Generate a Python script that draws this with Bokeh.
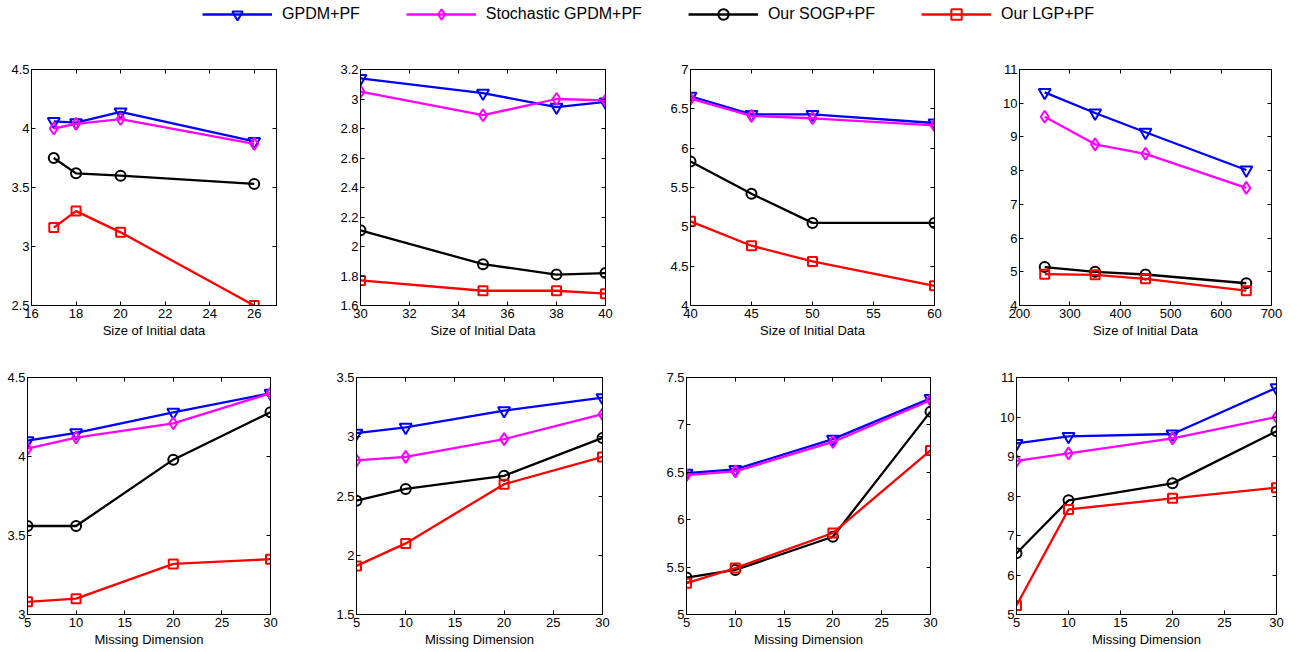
from bokeh.plotting import figure
from bokeh.layouts import column, row
from bokeh.models import (Range1d, FixedTicker, LinearAxis, CustomJSTickFormatter,
                          Legend, LegendItem)
from bokeh.embed import file_html
from bokeh.resources import INLINE

# ---------------- data ----------------
series_names = ["GPDM+PF", "Stochastic GPDM+PF", "Our SOGP+PF", "Our LGP+PF"]

# top row: size of initial data
p1_x = [17, 18, 20, 26]
p1_gpdm = [4.06, 4.05, 4.14, 3.89]
p1_sgpdm = [4.00, 4.04, 4.08, 3.87]
p1_sogp = [3.75, 3.62, 3.60, 3.53]
p1_lgp = [3.16, 3.30, 3.12, 2.50]

p2_x = [30, 35, 38, 40]
p2_gpdm = [3.14, 3.04, 2.945, 2.98]
p2_sgpdm = [3.05, 2.89, 3.00, 2.99]
p2_sogp = [2.11, 1.88, 1.81, 1.82]
p2_lgp = [1.77, 1.70, 1.70, 1.68]

p3_x = [40, 45, 50, 60]
p3_gpdm = [6.66, 6.43, 6.43, 6.32]
p3_sgpdm = [6.63, 6.41, 6.38, 6.29]
p3_sogp = [5.83, 5.42, 5.05, 5.05]
p3_lgp = [5.07, 4.76, 4.56, 4.25]

p4_x = [250, 350, 450, 650]
p4_gpdm = [10.32, 9.71, 9.14, 8.02]
p4_sgpdm = [9.60, 8.78, 8.50, 7.49]
p4_sogp = [5.14, 5.00, 4.92, 4.66]
p4_lgp = [4.93, 4.91, 4.79, 4.44]

# bottom row: missing dimension
md_x = [5, 10, 20, 30]
p5_gpdm = [4.10, 4.15, 4.28, 4.40]
p5_sgpdm = [4.05, 4.12, 4.21, 4.40]
p5_sogp = [3.56, 3.56, 3.98, 4.28]
p5_lgp = [3.08, 3.10, 3.32, 3.35]

p6_gpdm = [3.03, 3.08, 3.22, 3.33]
p6_sgpdm = [2.80, 2.83, 2.98, 3.19]
p6_sogp = [2.46, 2.56, 2.67, 2.99]
p6_lgp = [1.91, 2.10, 2.60, 2.83]

p7_gpdm = [6.49, 6.53, 6.85, 7.28]
p7_sgpdm = [6.47, 6.51, 6.82, 7.26]
p7_sogp = [5.39, 5.47, 5.82, 7.14]
p7_lgp = [5.33, 5.49, 5.86, 6.73]

p8_gpdm = [9.33, 9.51, 9.57, 10.74]
p8_sgpdm = [8.89, 9.08, 9.46, 10.00]
p8_sogp = [6.55, 7.89, 8.32, 9.64]
p8_lgp = [5.23, 7.66, 7.94, 8.21]

# axis ticks / labels
p1_xticks = [16, 18, 20, 22, 24, 26]
p1_yticks = [2.5, 3, 3.5, 4, 4.5]
p2_xticks = [30, 32, 34, 36, 38, 40]
p2_yticks = [1.6, 1.8, 2, 2.2, 2.4, 2.6, 2.8, 3, 3.2]
p3_xticks = [40, 45, 50, 55, 60]
p3_yticks = [4, 4.5, 5, 5.5, 6, 6.5, 7]
p4_xticks = [200, 300, 400, 500, 600, 700]
p4_yticks = [4, 5, 6, 7, 8, 9, 10, 11]
md_xticks = [5, 10, 15, 20, 25, 30]
p5_yticks = [3, 3.5, 4, 4.5]
p6_yticks = [1.5, 2, 2.5, 3, 3.5]
p7_yticks = [5, 5.5, 6, 6.5, 7, 7.5]
p8_yticks = [5, 6, 7, 8, 9, 10, 11]

xlabel_top1 = "Size of Initial data"
xlabel_top = "Size of Initial Data"
xlabel_bottom = "Missing Dimension"

# ---------------- style ----------------
colors = ["#0000ff", "#ff00ff", "#000000", "#ff0000"]
markers = ["inverted_triangle", "diamond", "circle", "square"]
marker_sizes = [12, 12, 10, 9]
FONT = "Liberation Sans"

panels = [
    dict(x=p1_x, ys=[p1_gpdm, p1_sgpdm, p1_sogp, p1_lgp], xr=(16, 27), yr=(2.5, 4.5),
         xt=p1_xticks, yt=p1_yticks, xl=xlabel_top1),
    dict(x=p2_x, ys=[p2_gpdm, p2_sgpdm, p2_sogp, p2_lgp], xr=(30, 40), yr=(1.6, 3.2),
         xt=p2_xticks, yt=p2_yticks, xl=xlabel_top),
    dict(x=p3_x, ys=[p3_gpdm, p3_sgpdm, p3_sogp, p3_lgp], xr=(40, 60), yr=(4, 7),
         xt=p3_xticks, yt=p3_yticks, xl=xlabel_top),
    dict(x=p4_x, ys=[p4_gpdm, p4_sgpdm, p4_sogp, p4_lgp], xr=(200, 700), yr=(4, 11),
         xt=p4_xticks, yt=p4_yticks, xl=xlabel_top),
    dict(x=md_x, ys=[p5_gpdm, p5_sgpdm, p5_sogp, p5_lgp], xr=(5, 30), yr=(3, 4.5),
         xt=md_xticks, yt=p5_yticks, xl=xlabel_bottom),
    dict(x=md_x, ys=[p6_gpdm, p6_sgpdm, p6_sogp, p6_lgp], xr=(5, 30), yr=(1.5, 3.5),
         xt=md_xticks, yt=p6_yticks, xl=xlabel_bottom),
    dict(x=md_x, ys=[p7_gpdm, p7_sgpdm, p7_sogp, p7_lgp], xr=(5, 30), yr=(5, 7.5),
         xt=md_xticks, yt=p7_yticks, xl=xlabel_bottom),
    dict(x=md_x, ys=[p8_gpdm, p8_sgpdm, p8_sogp, p8_lgp], xr=(5, 30), yr=(5, 11),
         xt=md_xticks, yt=p8_yticks, xl=xlabel_bottom),
]

# geometry: (left border, frame width, right border, top border, frame height, bottom border)
geoms = [
    (31, 245, 54, 41, 236, 44),
    (30, 245, 55, 41, 236, 44),
    (30, 244, 55, 41, 236, 44),
    (30, 252, 20, 41, 236, 44),
    (27, 243, 60, 28, 237, 36),
    (26, 246, 58, 28, 237, 36),
    (26, 244, 59, 28, 237, 36),
    (27, 260, 15, 28, 237, 36),
]

fmt_code = "return String(Math.round(tick*1000)/1000);"


def style_axis(ax, ticks, show_labels, is_x):
    ax.ticker = FixedTicker(ticks=ticks)
    ax.formatter = CustomJSTickFormatter(code=fmt_code)
    ax.axis_line_color = "black"
    ax.axis_line_width = 1
    ax.major_tick_in = 4
    ax.major_tick_out = 0
    ax.major_tick_line_color = "black"
    ax.minor_tick_line_color = None
    if show_labels:
        ax.major_label_text_font = FONT
        ax.major_label_text_font_size = "13px"
        ax.major_label_text_color = "black"
        ax.major_label_standoff = 3 if is_x else 2
    else:
        ax.major_label_text_font_size = "1px"
        ax.major_label_text_color = None
        ax.major_label_standoff = 0


def make_panel(cfg, geom):
    lb, fw, rb, tb, fh, bb = geom
    p = figure(frame_width=fw, frame_height=fh,
               min_border_left=lb, min_border_right=rb,
               min_border_top=tb, min_border_bottom=bb,
               x_range=Range1d(*cfg["xr"]), y_range=Range1d(*cfg["yr"]),
               output_backend="svg", toolbar_location=None, tools="")
    p.xgrid.visible = False
    p.ygrid.visible = False
    p.outline_line_color = "black"
    p.background_fill_color = "white"
    p.border_fill_color = "white"

    style_axis(p.xaxis[0], cfg["xt"], True, True)
    style_axis(p.yaxis[0], cfg["yt"], True, False)
    p.xaxis[0].axis_label = cfg["xl"]
    p.xaxis[0].axis_label_text_font = FONT
    p.xaxis[0].axis_label_text_font_size = "13px"
    p.xaxis[0].axis_label_text_font_style = "normal"
    p.xaxis[0].axis_label_text_color = "black"
    p.xaxis[0].axis_label_standoff = 2

    top_ax = LinearAxis()
    style_axis(top_ax, cfg["xt"], False, True)
    p.add_layout(top_ax, "above")
    right_ax = LinearAxis()
    style_axis(right_ax, cfg["yt"], False, False)
    p.add_layout(right_ax, "right")

    for ys, c, m, s in zip(cfg["ys"], colors, markers, marker_sizes):
        p.line(cfg["x"], ys, line_color=c, line_width=2.3)
        p.scatter(cfg["x"], ys, marker=m, size=s, line_color=c, line_width=2,
                  fill_color=None)
    return p


figs = [make_panel(c, g) for c, g in zip(panels, geoms)]

# ---------------- legend (renderers hold panel-1 data, kept out of view) ----------------
lp = figure(width=1296, height=28, x_range=Range1d(0, 1), y_range=Range1d(0, 1),
            x_axis_type=None, y_axis_type=None, output_backend="svg",
            toolbar_location=None, tools="", min_border=0)
lp.outline_line_color = None
lp.xgrid.visible = False
lp.ygrid.visible = False
items = []
for name, ys, c, m, s in zip(series_names, panels[0]["ys"], colors, markers, marker_sizes):
    rl = lp.line(x=p1_x, y=ys, line_color=c, line_width=2.3)
    rs = lp.scatter(x=p1_x, y=ys, marker=m, size=s, line_color=c, line_width=2,
                    fill_color=None)
    items.append(LegendItem(label=name, renderers=[rl, rs]))
legend = Legend(items=items, orientation="horizontal", location="center",
                glyph_width=70, glyph_height=26, label_height=18,
                label_standoff=10, spacing=46, padding=0, margin=0,
                label_text_font=FONT, label_text_font_size="16px",
                label_text_color="black", border_line_color=None,
                background_fill_alpha=0)
lp.add_layout(legend, "center")

layout = column(lp, row(*figs[:4]), row(*figs[4:]))

open("out.html", "w").write(file_html(layout, INLINE))
